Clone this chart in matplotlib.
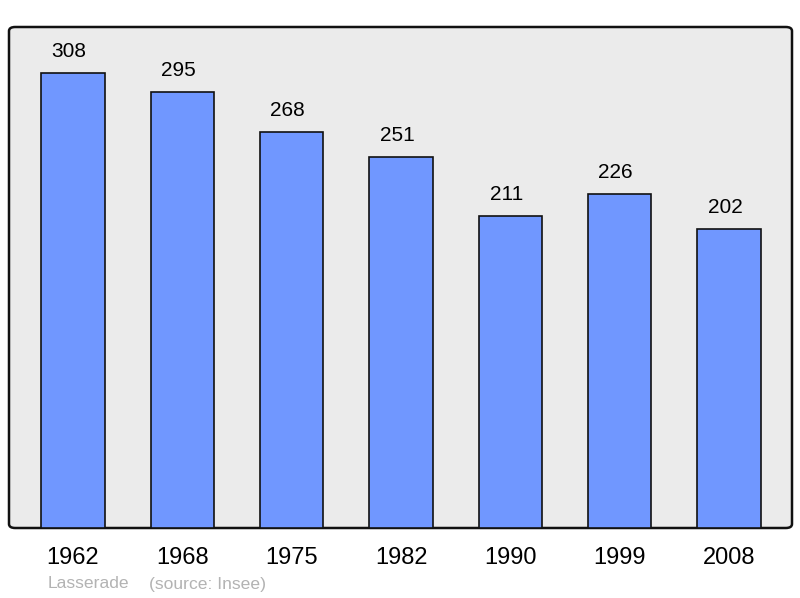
import matplotlib

matplotlib.use("Agg")
import matplotlib.pyplot as plt  # noqa: E402
from matplotlib.patches import FancyBboxPatch  # noqa: E402

years = ["1962", "1968", "1975", "1982", "1990", "1999", "2008"]
population = [308, 295, 268, 251, 211, 226, 202]
town = "Lasserade"
source = "(source: Insee)"

plt.rcParams["font.family"] = ["Liberation Sans", "DejaVu Sans"]

fig = plt.figure(figsize=(8, 5.98), dpi=100)
ax = fig.add_axes([9 / 800, 70 / 598, 783 / 800, 501 / 598])
ax.set_facecolor("none")

# rounded frame behind the axes
frame = FancyBboxPatch((0, 0), 1, 1, boxstyle="round,pad=0,rounding_size=0.008",
                       transform=ax.transAxes, facecolor="#ebebeb",
                       edgecolor="#111111", linewidth=1.8, zorder=0, clip_on=False)
ax.add_patch(frame)

xs = list(range(len(years)))
ax.bar(xs, population, width=0.58, color="#7097ff", edgecolor="#111111",
       linewidth=1.2, zorder=2)
for x, v in zip(xs, population):
    ax.annotate(str(v), (x, v), xytext=(-3, 15.5), textcoords="offset points",
                ha="center", va="center", fontsize=15)

ax.set_xlim(-0.585, 6.575)
ax.set_ylim(0, 339)
ax.set_xticks(xs)
ax.set_xticklabels(years, fontsize=17)
ax.tick_params(axis="x", length=0, pad=14)
ax.set_yticks([])
for s in ax.spines.values():
    s.set_visible(False)

fig.text(48 / 800, 1 - 584 / 598, town, color="#b3b3b3", fontsize=12.6, va="center")
fig.text(149 / 800, 1 - 584 / 598, source, color="#b3b3b3", fontsize=12.6, va="center")

fig.savefig("out.png", dpi=100)
plt.close(fig)
